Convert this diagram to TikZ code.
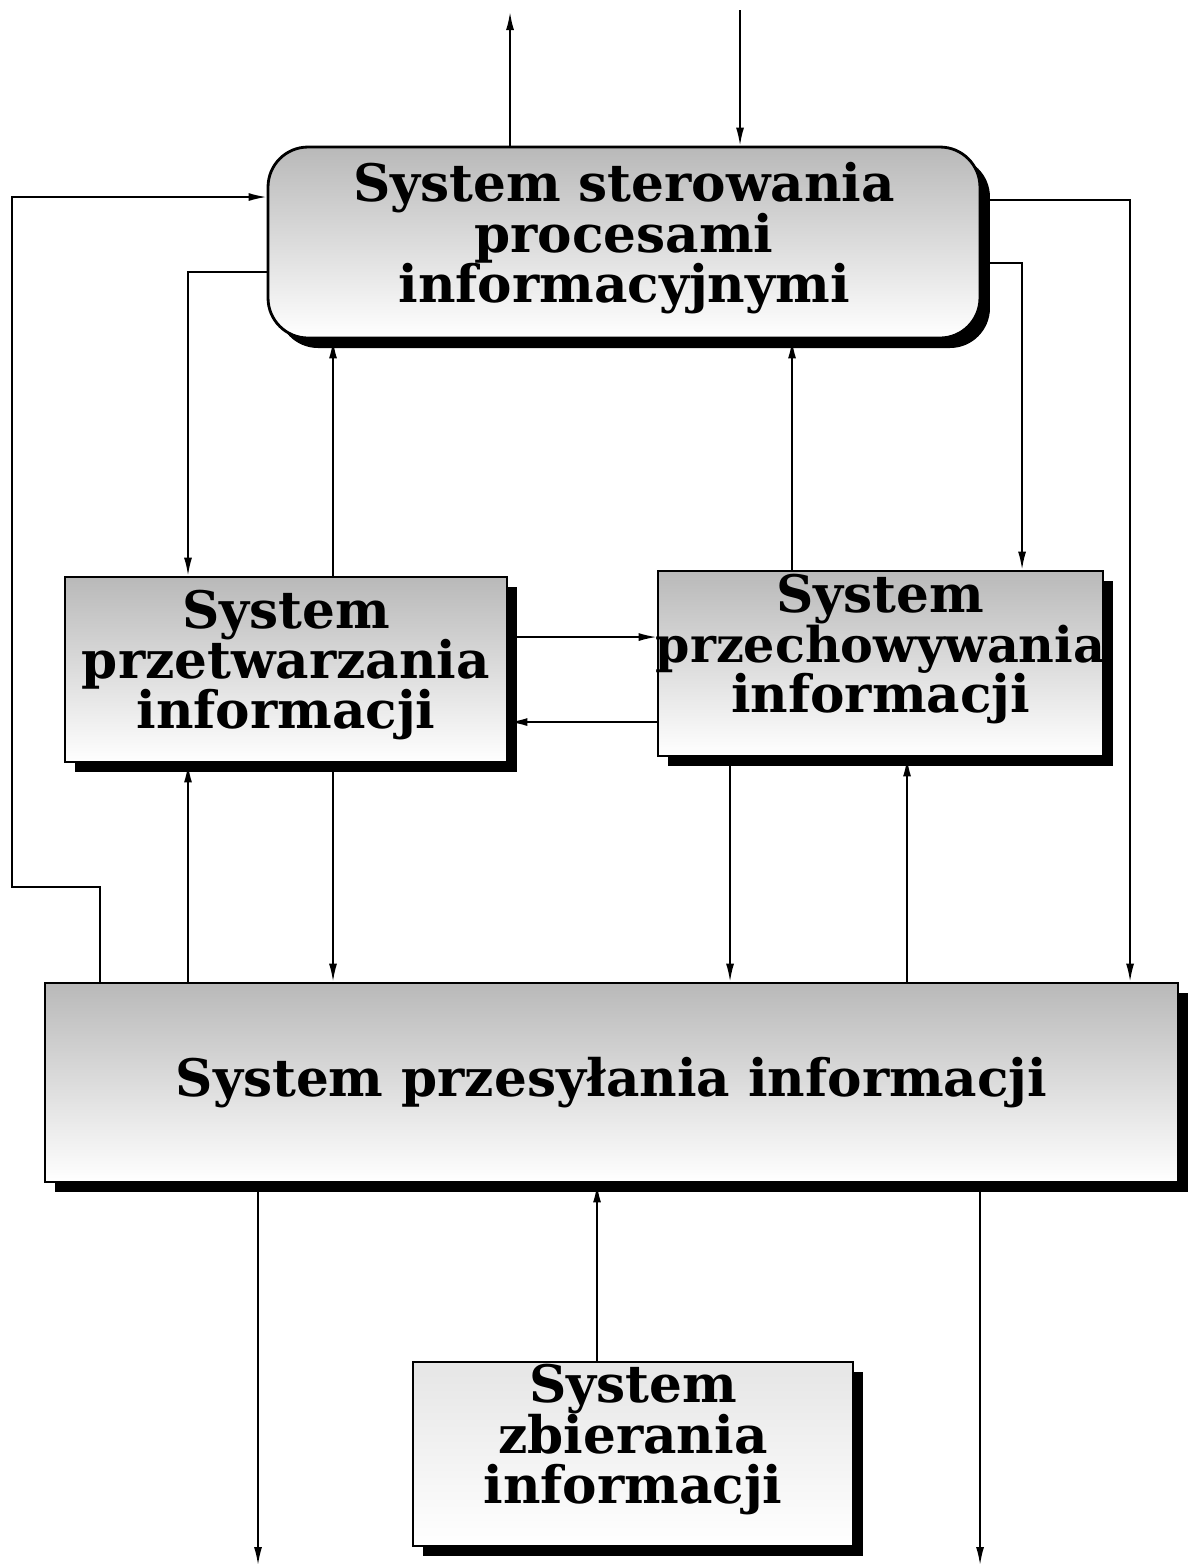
\documentclass[tikz,border=0pt]{standalone}
\usepackage{fontspec}
\setmainfont{DejaVu Serif}
\usetikzlibrary{arrows.meta,shadows}

\newcommand\sysfont{\bfseries\fontsize{14.7}{14.3}\selectfont\setlength{\lineskiplimit}{-20pt}}

\tikzset{
  sysbox/.style={draw=black, line width=0.8pt, top color=gray!55, bottom color=white,
    align=center, inner sep=0pt, font=\sysfont,
    drop shadow={shadow xshift=1mm, shadow yshift=-1mm, fill=black, opacity=1}},
  conn/.style={line width=0.5pt, -{Latex[length=1.8mm,width=0.8mm]}}
}

\begin{document}
\begin{tikzpicture}[scale=0.1]
  \useasboundingbox (0,0) rectangle (119.6,-156.7);
  % boxes
  \node[sysbox, minimum width=7.12cm, minimum height=1.91cm, rounded corners=4mm, text depth=0.2cm]
    (ster) at (62.4,-24.25) {System sterowania\\procesami\\informacyjnymi};
  \node[sysbox, minimum width=4.42cm, minimum height=1.85cm, text depth=0.2cm]
    (prz) at (28.6,-66.95) {System\\przetwarzania\\informacji};
  \node[sysbox, minimum width=4.45cm, minimum height=1.85cm, text depth=0.4cm]
    (prze) at (88.05,-66.35) {System\\\makebox[4cm]{\fontsize{14}{14.3}\selectfont przechowywania}\\informacji};
  \node[sysbox, minimum width=11.33cm, minimum height=1.99cm]
    (przes) at (61.15,-108.25) {System przesyłania informacji};
  \node[sysbox, top color=gray!20, minimum width=4.4cm, minimum height=1.84cm, text depth=0.4cm]
    (zb) at (63.3,-145.4) {System\\zbierania\\informacji};
  % columns and bends
  \coordinate (outA) at (51,-1.2);
  \coordinate (inA) at (74,-1);
  \coordinate (lp1) at (1.2,-88.7);
  \coordinate (lp2) at (10,-88.7);
  \coordinate (lp3) at (1.2,-19.7);
  \coordinate (c188) at (18.8,-27.2);
  \coordinate (c333) at (33.3,0);
  \coordinate (r1) at (113,-20);
  \coordinate (r2) at (102.2,-26.3);
  \coordinate (c792) at (79.2,0);
  \coordinate (c730) at (73,0);
  \coordinate (c907) at (90.7,0);
  \coordinate (h1) at (0,-63.7);
  \coordinate (h2) at (0,-72.2);
  \coordinate (b1) at (25.8,-156.5);
  \coordinate (b2) at (98,-156.5);
  \coordinate (c597) at (59.7,0);
  % top
  \draw[conn] (ster.north -| outA) -- (outA);
  \draw[conn] (inA) -- (ster.north -| inA);
  \draw[conn] (przes.north -| lp2) -- (lp2) -- (lp1) -- (lp3) -- (lp3 -| ster.west);
  \draw[conn] (ster.west |- c188) -- (c188) -- (prz.north -| c188);
  \draw[conn] (prz.north -| c333) -- ([yshift=-1mm]ster.south -| c333);
  \draw[conn] (ster.east |- r1) -- (r1) -- (przes.north -| r1);
  \draw[conn] (ster.east |- r2) -- (r2) -- (prze.north -| r2);
  \draw[conn] (prze.north -| c792) -- ([yshift=-1mm]ster.south -| c792);
  % middle
  \draw[conn] ([xshift=1mm]prz.east |- h1) -- (prze.west |- h1);
  \draw[conn] (prze.west |- h2) -- ([xshift=1mm]prz.east |- h2);
  \draw[conn] (przes.north -| c188) -- ([yshift=-1mm]prz.south -| c188);
  \draw[conn] ([yshift=-1mm]prz.south -| c333) -- (przes.north -| c333);
  \draw[conn] ([yshift=-1mm]prze.south -| c730) -- (przes.north -| c730);
  \draw[conn] (przes.north -| c907) -- ([yshift=-1mm]prze.south -| c907);
  % bottom
  \draw[conn] ([yshift=-1mm]przes.south -| b1) -- (b1);
  \draw[conn] (zb.north -| c597) -- ([yshift=-1mm]przes.south -| c597);
  \draw[conn] ([yshift=-1mm]przes.south -| b2) -- (b2);
\end{tikzpicture}
\end{document}
